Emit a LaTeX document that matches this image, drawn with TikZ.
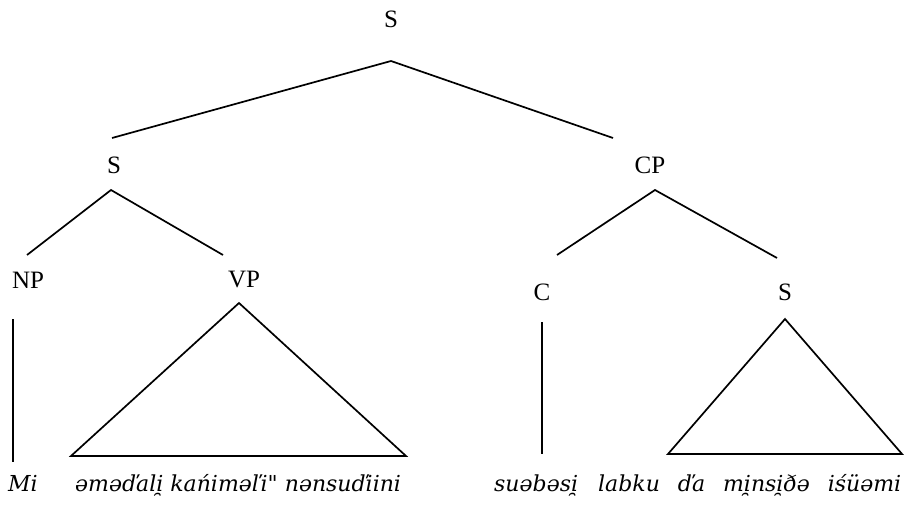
\documentclass[tikz,border=0pt]{standalone}
\usepackage{fontspec}
\setmainfont{Liberation Serif}
\newfontfamily\wordfont{DejaVu Serif}
\begin{document}
\begin{tikzpicture}[x=1pt,y=-1pt,
  cat/.style={inner sep=0pt,font=\fontsize{25}{28}\selectfont},
  word/.style={inner sep=0pt,anchor=base west,font=\wordfont\fontsize{22}{26}\selectfont\itshape},
  branch/.style={line width=1.7pt,line join=miter}]
\useasboundingbox (0,0) rectangle (918,505);
% category labels
\node[cat] (Stop) at (391,19) {S};
\node[cat] (S1) at (114,165) {S};
\node[cat] (CP) at (650,165) {CP};
\node[cat] (NP) at (28,280) {NP};
\node[cat] (VP) at (244,280) {VP};
\node[cat] (C) at (542,292) {C};
\node[cat] (S2) at (785,292) {S};
% branch points
\coordinate (a0) at (391,61);
\coordinate (a0l) at (112,138);
\coordinate (a0r) at (613,138);
\coordinate (a1) at (111,190);
\coordinate (a1l) at (27,255);
\coordinate (a1r) at (223,255);
\coordinate (a2) at (655,190);
\coordinate (a2l) at (557,255);
\coordinate (a2r) at (777,258);
\coordinate (np1) at (13,319);
\coordinate (np2) at (13,462);
\coordinate (vpt) at (239,303);
\coordinate (vpl) at (71,456);
\coordinate (vpr) at (406,456);
\coordinate (c1) at (542,322);
\coordinate (c2) at (542,454);
\coordinate (st) at (785,319);
\coordinate (sl) at (668,454);
\coordinate (sr) at (902,454);
% branches
\draw[branch] (a0l) -- (a0) -- (a0r);
\draw[branch] (a1l) -- (a1) -- (a1r);
\draw[branch] (a2l) -- (a2) -- (a2r);
\draw[branch] (np1) -- (np2);
\draw[branch] (vpt) -- (vpl) -- (vpr) -- cycle;
\draw[branch] (c1) -- (c2);
\draw[branch] (st) -- (sl) -- (sr) -- cycle;
% words
\node[word] (w1) at (8,491) {Mi};
\node[word] (w2) at (75,491) {əməďali̯ kańiməľi\textquotedbl{} nənsuďiini};
\node[word] (w3) at (494,491) {suəbəsi̯};
\node[word] (w4) at (598,491) {\spaceskip=18pt labku ďa mi̯nsi̯ðə iśüəmi};
\end{tikzpicture}
\end{document}
